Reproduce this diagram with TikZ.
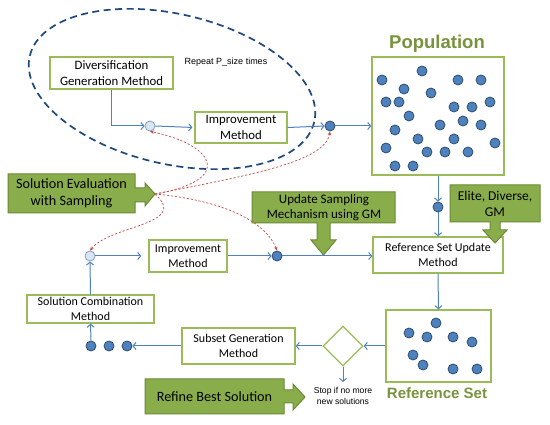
\documentclass[tikz,border=0pt]{standalone}
\usepackage{fontspec}
\setmainfont{Carlito}
\newfontfamily\arialf{Liberation Sans}
\usetikzlibrary{arrows.meta,shapes.geometric}
\definecolor{boxgreen}{HTML}{9BBB59}
\definecolor{titlegreen}{HTML}{77933C}
\definecolor{flowblue}{HTML}{4F81BD}
\definecolor{dotblue}{HTML}{4F81BD}
\definecolor{dotedge}{HTML}{2C4D75}
\definecolor{lightdot}{HTML}{DCE6F2}
\definecolor{lightedge}{HTML}{7F9FCB}
\definecolor{ellblue}{HTML}{1F497D}
\definecolor{evalred}{HTML}{C0504D}
\definecolor{callfill}{HTML}{8AAD4C}
\definecolor{calledge}{HTML}{6B8A34}
\tikzset{
  procbox/.style={draw=boxgreen, line width=1.3pt, fill=white, align=center, inner sep=1pt},
  topfont/.style={font=\fontsize{12.8}{16}\selectfont},
  lowfont/.style={font=\fontsize{12}{15}\selectfont},
  darkdot/.style={circle, draw=dotedge, fill=dotblue, line width=0.8pt, minimum size=10pt, inner sep=0pt},
  lightdotst/.style={circle, draw=lightedge, fill=lightdot, line width=0.8pt, minimum size=10pt, inner sep=0pt},
  flow/.style={draw=flowblue, line width=1pt, -{Straight Barb[length=3pt,width=7pt]}},
  evalarrow/.style={draw=evalred, line width=0.7pt, dash pattern=on 2.2pt off 1.8pt, -{Stealth[length=4pt,width=3.5pt]}},
  callout/.style={draw=calledge, fill=callfill, line width=1pt, line join=miter},
  calltext/.style={align=center, font=\fontsize{14.2}{16.8}\selectfont},
  titletext/.style={font=\arialf\bfseries, text=titlegreen},
  smalltext/.style={font=\arialf\fontsize{9}{11}\selectfont, align=center}
}
\begin{document}
\begin{tikzpicture}[x=1pt,y=-1pt]
\useasboundingbox (0,0) rectangle (550,425);
\fill[white] (0,0) rectangle (550,425);

% dashed loop ellipse
\draw[ellblue, line width=1.7pt, dash pattern=on 7pt off 4.5pt, rotate around={-13:(172,89)}] (172,89) ellipse [x radius=146, y radius=75];
\node[smalltext] (repeat) at (226,62) {Repeat P\_size times};

% top row
\node[procbox, topfont, minimum width=123pt, minimum height=32pt] (div) at (111.5,73) {Diversification\\Generation Method};
\node[procbox, topfont, minimum width=92pt, minimum height=31pt] (imp1) at (241,127.5) {Improvement\\Method};
\node[lightdotst] (lc1) at (150,126) {};
\node[darkdot] (dc1) at (330,126) {};

% population
\node[draw=boxgreen, line width=1.3pt, minimum width=132pt, minimum height=118pt] (pop) at (438,116) {};
\node[titletext, font=\arialf\bfseries\fontsize{18.5}{21}\selectfont] (poptitle) at (437,44) {Population};
\foreach \px/\py in {422/71,382/80,458/80,481/80,404/89,431/93,386/102,399/102,454/107,472/107,490/102,409/116,463/121,440/125,481/125,395/130,418/139,454/139,386/148,495/143,427/152,445/152,468/152,395/166,413/166}
  \fill[dotblue, draw=dotedge, line width=0.8pt] (\px,\py) circle (5);

\node[darkdot] (dc2) at (438,207) {};
\node[procbox, lowfont, minimum width=130pt, minimum height=36pt] (rsu) at (438,255) {Reference Set Update\\Method};

% reference set
\node[draw=boxgreen, line width=1.3pt, minimum width=105pt, minimum height=72pt] (rs) at (438.5,346) {};
\node[titletext, font=\arialf\bfseries\fontsize{15}{17}\selectfont] (rstitle) at (437,393) {Reference Set};
\foreach \px/\py in {436/323,409/333,427/337,453/337,472/342,413/355,423/365,453/369,477/369}
  \fill[dotblue, draw=dotedge, line width=0.8pt] (\px,\py) circle (5);

\node[diamond, draw=boxgreen, line width=1.3pt, minimum width=40pt, minimum height=40pt, inner sep=0pt] (dia) at (343,346) {};
\coordinate (stopend) at (343,382);
\node[smalltext, font=\arialf\fontsize{8.6}{11}\selectfont] (stoptext) at (343,396) {Stop if no more\\new solutions};

\node[procbox, lowfont, minimum width=113pt, minimum height=36pt] (sub) at (238.5,346) {Subset Generation\\Method};
\node[darkdot] (d1) at (91,346) {};
\node[darkdot] (d2) at (109,346) {};
\node[darkdot] (d3) at (127,346) {};
\node[procbox, lowfont, minimum width=127pt, minimum height=28pt] (scm) at (90.5,309) {Solution Combination\\Method};

% second row
\node[lightdotst] (lc2) at (90,256) {};
\node[procbox, lowfont, minimum width=78pt, minimum height=32pt] (imp2) at (188,256) {Improvement\\Method};
\node[darkdot] (dc3) at (277,256) {};

% flow connectors
\draw[flow] (div.south) |- (lc1.west);
\draw[flow, shorten >=2pt] (lc1.east) -- (imp1.west);
\draw[flow] (imp1.east) -- (dc1.west);
\draw[flow] (dc1.east) -- (dc1.east -| pop.west);
\draw[flow] (pop.south) -- (dc2.north);
\draw[flow] (dc2.south) -- (rsu.north);
\draw[flow] (rsu.south) -- (rs.north);
\draw[flow] (rs.west) -- (dia.east);
\draw[flow] (dia.west) -- (sub.east);
\draw[flow] (dia.south) -- (stopend);
\draw[flow] (sub.west) -- (d3.east);
\draw[flow] (d1.north) -- (scm.south);
\draw[flow] (scm.north) -- (lc2.south);
\draw[flow, shorten >=7pt] (lc2.east) -- (imp2.west);
\draw[flow] (imp2.east) -- (dc3.west);
\draw[flow] (dc3.east) -- (dc3.east -| rsu.west);

% callouts
\draw[callout] (8,174) -- (135,174) -- (135,188) -- (145,188) -- (145,183) -- (155,194) -- (145,206) -- (145,202) -- (135,202) -- (135,213) -- (8,213) -- cycle;
\node[calltext] (evaltext) at (71.5,193.5) {Solution Evaluation\\with Sampling};
\coordinate (evtip) at (155,194);

\draw[callout] (252,192) -- (395,192) -- (395,223) -- (330,223) -- (330,240) -- (336,240) -- (323.5,255) -- (311,240) -- (317,240) -- (317,223) -- (252,223) -- cycle;
\node[calltext, font=\fontsize{13}{15.5}\selectfont] (updtext) at (324,207.5) {Update Sampling\\Mechanism using GM};

\draw[callout] (450,185) -- (540,185) -- (540,222) -- (500,222) -- (500,230) -- (507,230) -- (495,243) -- (483,230) -- (490,230) -- (490,222) -- (450,222) -- cycle;
\node[calltext, font=\fontsize{13.5}{16}\selectfont] (elitetext) at (495,203.5) {Elite, Diverse,\\GM};

\draw[callout] (145,379) -- (284,379) -- (284,390) -- (293,390) -- (293,384) -- (305,397) -- (293,410) -- (293,403) -- (284,403) -- (284,414) -- (145,414) -- cycle;
\node[calltext] (refinetext) at (214.5,396.5) {Refine Best Solution};

% evaluation (red dashed) links
\draw[evalarrow] (evtip) .. controls (235,180) and (215,145) .. (lc1.south);
\draw[evalarrow] (evtip) .. controls (250,175) and (325,162) .. (dc1.south);
\draw[evalarrow] (evtip) .. controls (190,225) and (110,225) .. (lc2.north);
\draw[evalarrow] (evtip) .. controls (220,200) and (265,220) .. (dc3.north);
\end{tikzpicture}
\end{document}
